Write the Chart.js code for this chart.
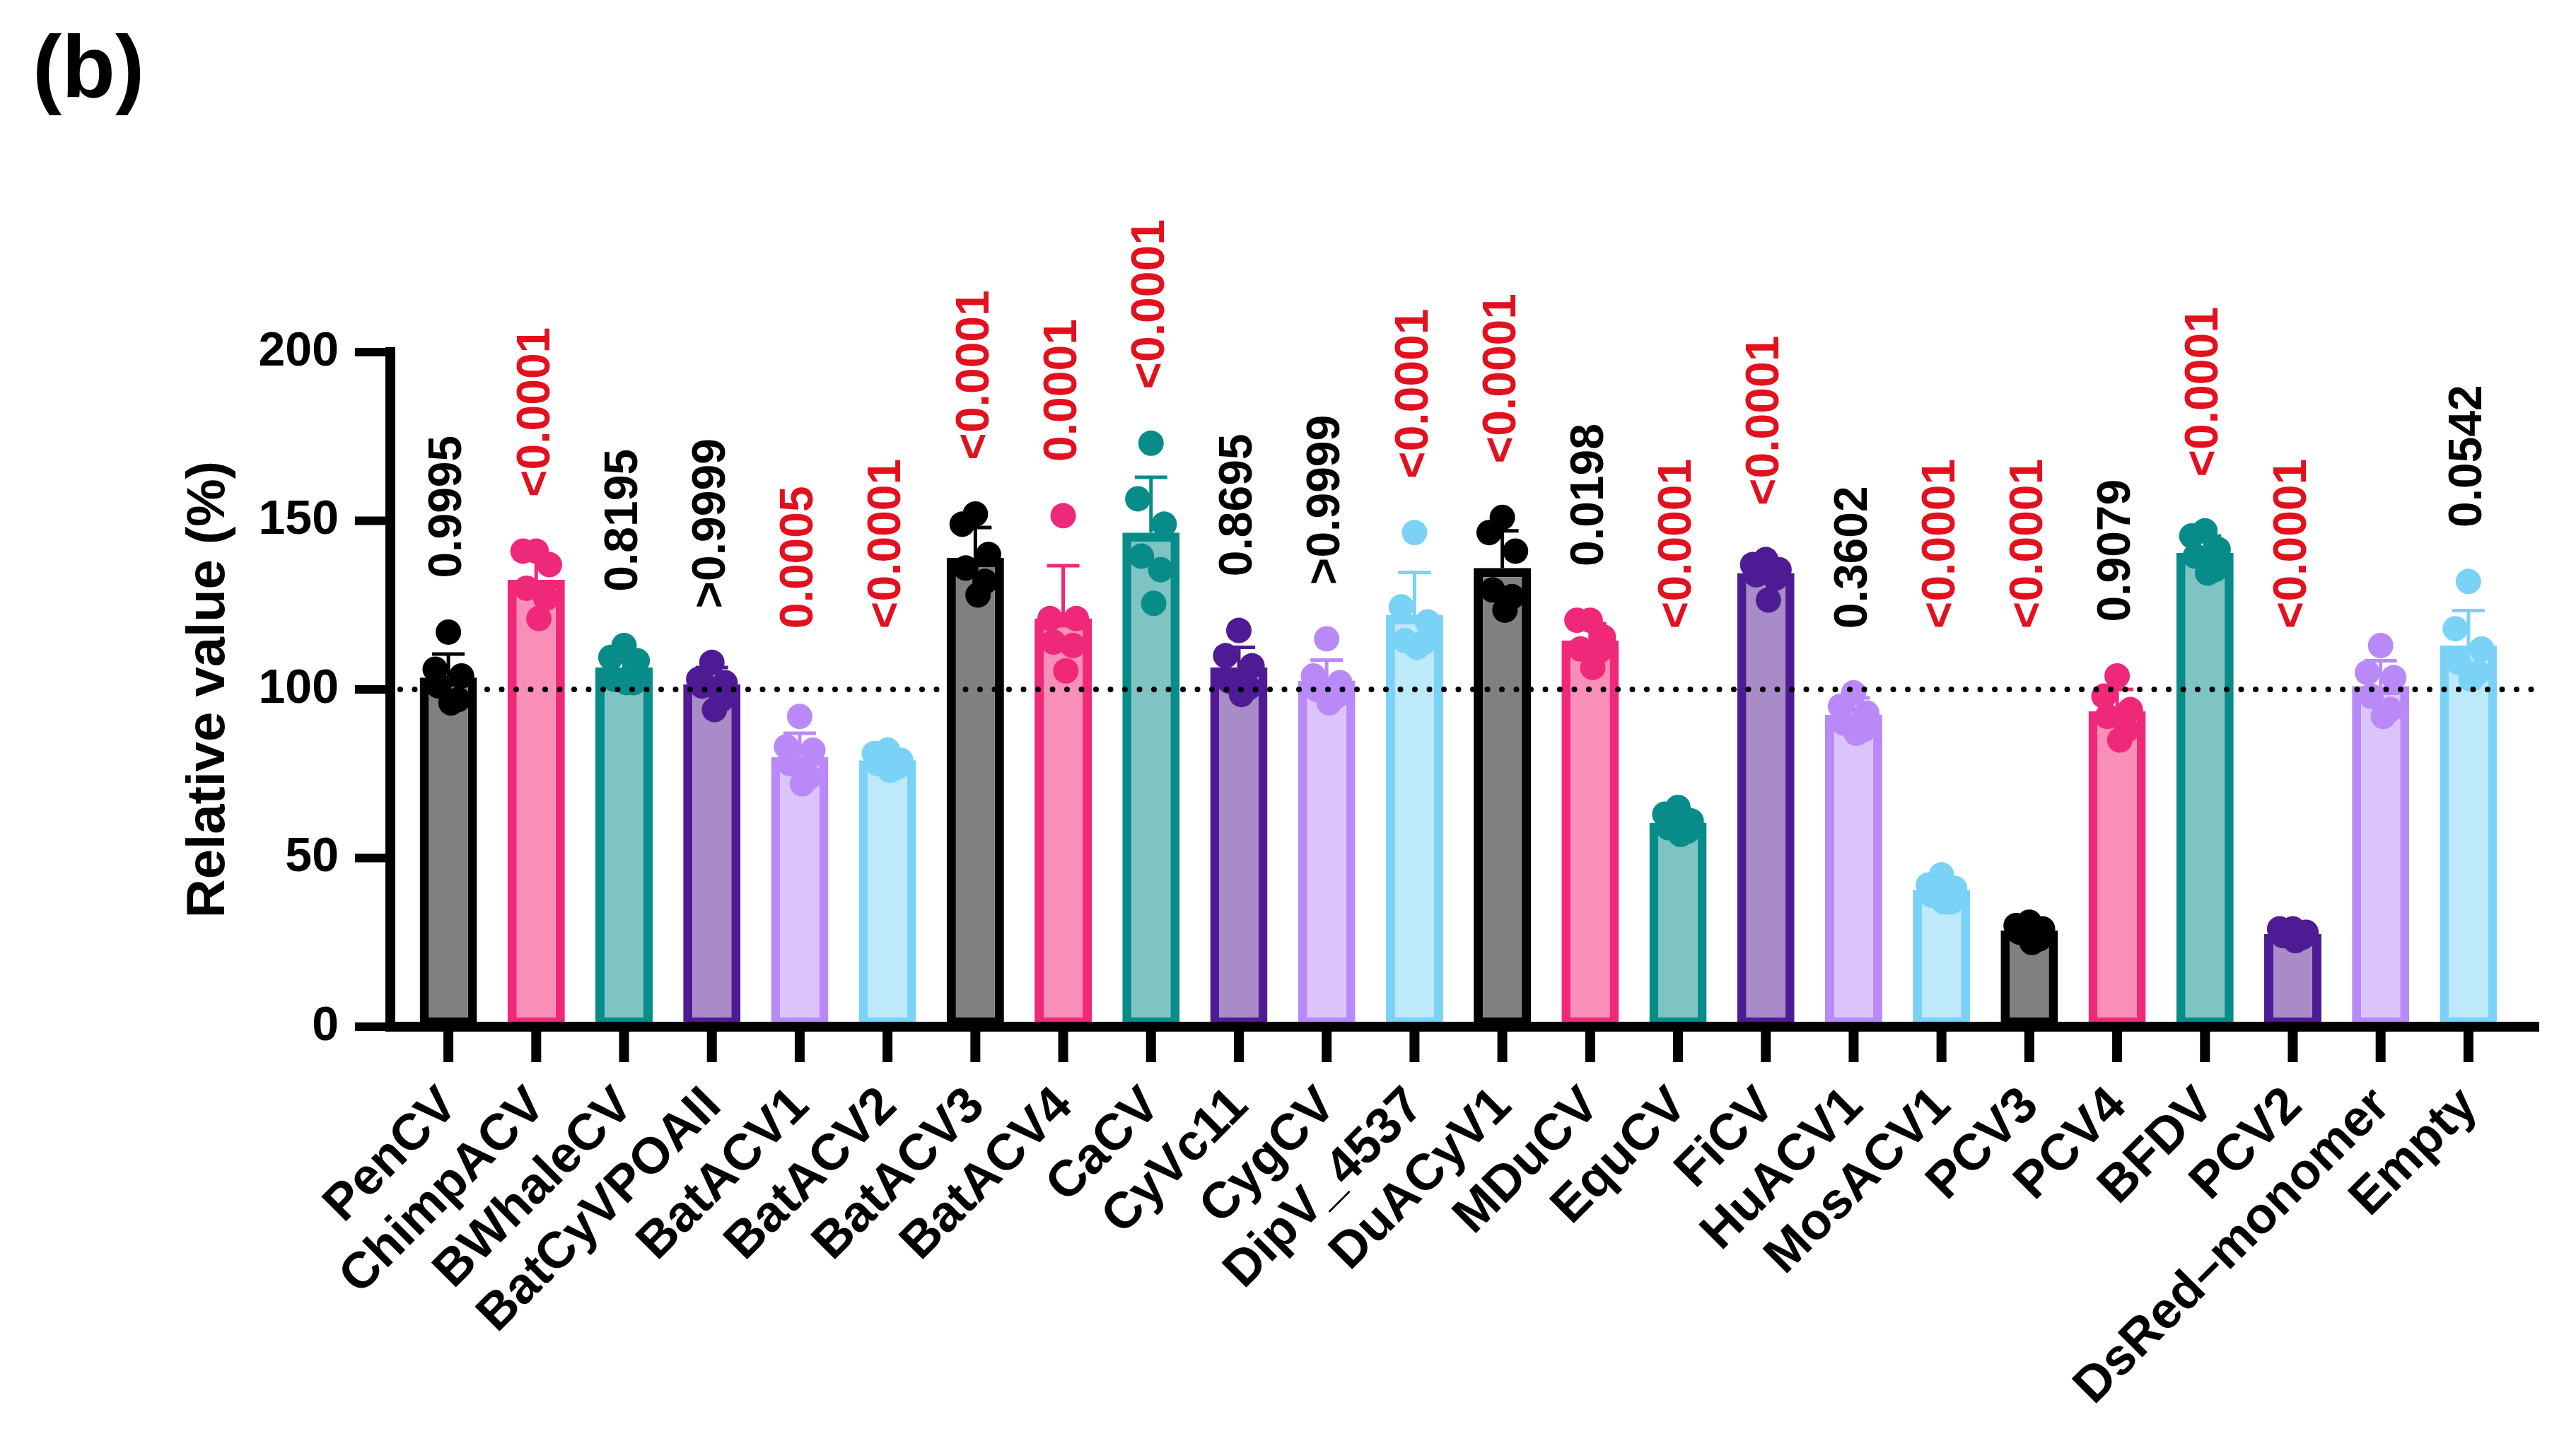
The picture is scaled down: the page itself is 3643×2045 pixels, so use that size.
<!DOCTYPE html>
<html>
<head>
<meta charset="utf-8">
<script src="https://cdn.jsdelivr.net/npm/chart.js@4.4.1/dist/chart.umd.min.js"></script>
<style>
    html, body { margin: 0; padding: 0; background: #fff; }
    canvas { display: block; }
</style>
</head>
<body>
<canvas id="chart" width="3643" height="2045" style="width:3643px;height:2045px"></canvas>
<script>
// values (relative value, %)
const categories = ['PenCV', 'ChimpACV', 'BWhaleCV', 'BatCyVPOAII', 'BatACV1', 'BatACV2', 'BatACV3', 'BatACV4',
    'CaCV', 'CyVc11', 'CygCV', 'DipV_4537', 'DuACyV1', 'MDuCV', 'EquCV', 'FiCV', 'HuACV1', 'MosACV1',
    'PCV3', 'PCV4', 'BFDV', 'PCV2', 'DsRed–monomer', 'Empty'];
const means = [103.5, 132.5, 106.5, 101.5, 80, 79, 139, 121, 146.5, 106.5, 102.5, 122,
    136, 114.5, 60.5, 134.5, 92.5, 40.5, 28.5, 93.5, 140.5, 27.5, 101, 113];
const sds = [7, 7.5, 4.5, 5, 7, 2.5, 9, 15.7, 16.4, 6, 6.2, 12.7,
    11, 5, 3, 4, 5, 3, 2.5, 6.5, 5, 1.5, 7.5, 10.4];
const replicates = [
    [117, 106, 104, 101, 97, 96],
    [141, 141, 137, 130, 127, 121],
    [113, 109.5, 108.5, 103, 102, 102],
    [108, 103, 102, 101, 97, 94],
    [92, 83, 82, 78, 74, 72],
    [82, 81, 79, 78, 77, 76],
    [152, 149, 140, 136, 132, 128],
    [151.5, 121, 121, 114, 113, 105.5],
    [173, 156.5, 149, 139.5, 135.5, 125.5],
    [117.5, 110, 107, 102.5, 100.5, 98.5],
    [115, 104, 102, 100, 98, 96],
    [146.5, 124.5, 120, 114.5, 114, 112.5],
    [151, 146.5, 141, 129.5, 127.5, 123.5],
    [120.5, 120.5, 115.5, 112, 111.5, 106.5],
    [65, 63, 61, 59, 58, 57],
    [138.5, 137, 135.5, 134, 133, 126.5],
    [99, 95, 93, 90, 88, 87],
    [45, 42, 41, 39, 37, 37],
    [31, 30, 29, 28, 26, 25],
    [104, 98, 94, 92, 88, 85],
    [147, 145.5, 141.5, 139.5, 135.5, 134.5],
    [29, 29, 28, 27, 26.5, 25.5],
    [113, 105, 103.5, 98, 94, 92],
    [132, 118, 112, 108, 105, 103],
];
const pValues = ['0.9995', '<0.0001', '0.8195', '>0.9999', '0.0005', '<0.0001', '<0.0001', '0.0001',
    '<0.0001', '0.8695', '>0.9999', '<0.0001', '<0.0001', '0.0198', '<0.0001', '<0.0001', '0.3602',
    '<0.0001', '<0.0001', '0.9079', '<0.0001', '<0.0001', null, '0.0542'];
const yTicks = [0, 50, 100, 150, 200];
const referenceLine = 100;

const FONT = '"Liberation Sans", Arial, Helvetica, sans-serif';
const palette = [
    { border: '#000000', fill: '#808080' },
    { border: '#F0287A', fill: '#F98FB9' },
    { border: '#078C89', fill: '#7FC4C3' },
    { border: '#4F1B94', fill: '#A88BC7' },
    { border: '#B98AF7', fill: '#DBC4FC' },
    { border: '#7AD2F7', fill: '#BEE9FB' },
];
const groupColor = (i) => palette[i % palette.length];
const jitter = [0, -0.15, 0.15, -0.11, 0.11, 0.03];
const isSignificant = (p) => parseFloat(p.replace(/[<>]/g, '')) < 0.01;

const points = [];
const pointColors = [];
replicates.forEach((group, i) => {
    group.forEach((v, j) => {
        points.push({ x: i + jitter[j % jitter.length], y: v });
        pointColors.push(groupColor(i).border);
    });
});

const figureDecor = {
    id: 'figureDecor',
    afterDatasetDraw(chart, args) {
        if (args.index !== 0) return;
        const { ctx } = chart;
        const x = chart.scales.x;
        const y = chart.scales.y;
        ctx.save();
        ctx.lineWidth = 5;
        means.forEach((m, i) => {
            const cx = x.getPixelForValue(i);
            const top = y.getPixelForValue(m + sds[i]);
            ctx.strokeStyle = groupColor(i).border;
            ctx.beginPath();
            ctx.moveTo(cx, y.getPixelForValue(m));
            ctx.lineTo(cx, top);
            ctx.moveTo(cx - 23, top);
            ctx.lineTo(cx + 23, top);
            ctx.stroke();
        });
        ctx.restore();
    },
    afterDatasetsDraw(chart) {
        const { ctx, chartArea } = chart;
        const x = chart.scales.x;
        const y = chart.scales.y;
        const axisX = chartArea.left - 20;
        const y0 = y.getPixelForValue(0);
        ctx.save();

        // dotted reference line
        ctx.strokeStyle = '#000';
        ctx.lineWidth = 8;
        ctx.lineCap = 'round';
        ctx.setLineDash([0, 20.5]);
        ctx.beginPath();
        ctx.moveTo(axisX + 14, y.getPixelForValue(referenceLine));
        ctx.lineTo(chartArea.right + 43, y.getPixelForValue(referenceLine));
        ctx.stroke();
        ctx.setLineDash([]);
        ctx.lineCap = 'butt';

        // axes
        ctx.lineWidth = 14;
        ctx.beginPath();
        ctx.moveTo(axisX, y.getPixelForValue(200) - 7);
        ctx.lineTo(axisX, y0 + 7);
        ctx.moveTo(axisX - 7, y0);
        ctx.lineTo(chartArea.right + 38, y0);
        ctx.stroke();
        ctx.lineWidth = 12;
        ctx.beginPath();
        yTicks.forEach((v) => {
            ctx.moveTo(axisX - 50, y.getPixelForValue(v));
            ctx.lineTo(axisX, y.getPixelForValue(v));
        });
        ctx.stroke();
        ctx.lineWidth = 14;
        ctx.beginPath();
        categories.forEach((c, i) => {
            ctx.moveTo(x.getPixelForValue(i), y0);
            ctx.lineTo(x.getPixelForValue(i), y0 + 50);
        });
        ctx.stroke();

        // p values above bars
        ctx.font = `bold 66px ${FONT}`;
        ctx.textAlign = 'left';
        ctx.textBaseline = 'middle';
        pValues.forEach((p, i) => {
            if (!p) return;
            const top = Math.max(Math.max(...replicates[i]), means[i] + sds[i]);
            const base = Math.max(118, top + 16);
            ctx.save();
            ctx.translate(x.getPixelForValue(i), y.getPixelForValue(base));
            ctx.rotate(-Math.PI / 2);
            ctx.fillStyle = isSignificant(p) ? '#E3101E' : '#000';
            ctx.fillText(p, 0, 0);
            ctx.restore();
        });

        // panel letter
        ctx.font = `bold 124px ${FONT}`;
        ctx.fillStyle = '#000';
        ctx.textBaseline = 'alphabetic';
        ctx.fillText('(b)', 46, 137);
        ctx.restore();
    },
};

new Chart(document.getElementById('chart'), {
    type: 'bar',
    data: {
        labels: categories,
        datasets: [
            {
                type: 'bar',
                data: means,
                backgroundColor: means.map((m, i) => groupColor(i).fill),
                borderColor: means.map((m, i) => groupColor(i).border),
                borderWidth: 13,
                borderSkipped: false,
                grouped: false,
                barPercentage: 0.652,
                categoryPercentage: 1,
                order: 1,
            },
            {
                type: 'scatter',
                data: points,
                xAxisID: 'xp',
                pointRadius: 18,
                pointBorderWidth: 0,
                pointBackgroundColor: pointColors,
                clip: false,
                order: 0,
            },
        ],
    },
    options: {
        responsive: false,
        devicePixelRatio: 1,
        animation: false,
        layout: { padding: { top: 498, right: 90, left: 0, bottom: 0 } },
        plugins: { legend: { display: false }, tooltip: { enabled: false } },
        scales: {
            x: {
                type: 'category',
                offset: true,
                grid: { display: false },
                border: { display: false },
                ticks: {
                    autoSkip: false,
                    minRotation: 45,
                    maxRotation: 45,
                    padding: 62,
                    labelOffset: 2,
                    color: '#000',
                    font: { family: FONT, size: 72, weight: 'bold' },
                },
                afterFit: (scale) => { scale.height = 593; },
            },
            xp: {
                type: 'linear',
                display: false,
                offset: false,
                grid: { offset: false },
                min: -0.5,
                max: categories.length - 0.5,
            },
            y: {
                min: 0,
                max: 200,
                grid: { display: false },
                border: { display: false },
                afterBuildTicks: (scale) => { scale.ticks = yTicks.map((v) => ({ value: v })); },
                ticks: {
                    padding: 85,
                    color: '#000',
                    font: { family: FONT, size: 68, weight: 'bold' },
                },
                title: {
                    display: true,
                    text: 'Relative value (%)',
                    color: '#000',
                    padding: { top: 250, bottom: 0 },
                    font: { family: FONT, size: 76, weight: 'bold' },
                },
                afterFit: (scale) => { scale.width = 572; },
            },
        },
    },
    plugins: [figureDecor],
});
</script>
</body>
</html>
